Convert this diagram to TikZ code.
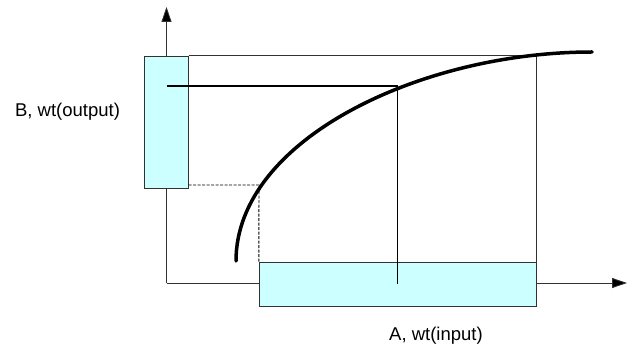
\documentclass[tikz,border=0pt]{standalone}
\usepackage{fontspec}
\setmainfont{Liberation Sans}
\usepackage{xcolor}
\definecolor{boxcyan}{RGB}{204, 255, 255}
\definecolor{axisgray}{RGB}{50, 50, 50}
\usepackage{tikz}
\usetikzlibrary{arrows.meta, positioning, calc}

\begin{document}
\begin{tikzpicture}[x=1pt, y=-1pt,
    valbox/.style={draw=axisgray, fill=boxcyan, inner sep=0pt},
    axisline/.style={draw=axisgray, line width=0.8pt, -{Triangle[length=15pt, width=10pt, fill=black]}},
    lbl/.style={font=\fontsize{18.5}{22}\selectfont, anchor=base}]
      \useasboundingbox (0,0) rectangle (634,347);
      % axes
      \coordinate (orig) at (166.5,283);
      \coordinate (ytip) at (166.5,7);
      \coordinate (xtip) at (627,283);
      \draw[axisline] (orig) -- (ytip);
      \draw[axisline] (orig) -- (xtip);
      % ranges of output and input
      \node[valbox, minimum width=44pt, minimum height=132pt] (boxB) at (166.5,122) {};
      \node[valbox, minimum width=277pt, minimum height=44pt] (boxA) at (397.5,284) {};
      \draw[axisgray, line width=0.6pt]
            (boxB.north east) -- (boxA.north east |- boxB.north east) -- (boxA.north east);
      \coordinate (lo) at (259,185);
      \draw[dashed, dash pattern=on 3pt off 1.5pt, line width=0.9pt] (boxB.east |- lo) -- (lo) -- (boxA.north west);
      \coordinate (op) at (boxA.center |- 0,86);
      \draw[line width=1.8pt] (boxB.center |- op) -- (op) -- (boxA.center);
      % curve
      \coordinate (cstart) at (236,261);
      \coordinate (cend) at (592,52);
      \draw[line width=3.5pt, line cap=round]
            (cstart) .. controls (236,140) and (420,52) .. (cend);
      \node[lbl] (labB) at (67.5,116.5) {B, wt(output)};
      \node[lbl] (labA) at (436,340) {A, wt(input)};
    \end{tikzpicture}
\end{document}
